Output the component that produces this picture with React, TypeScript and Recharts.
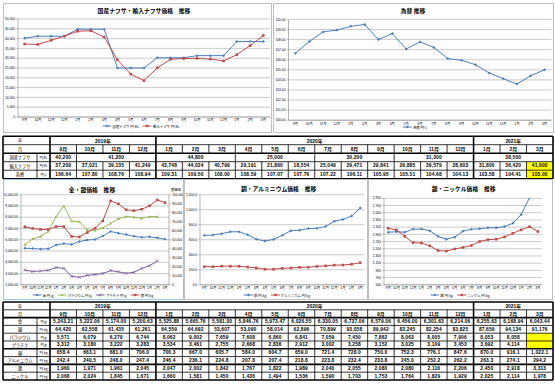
import React from 'react';
import { LineChart, Line, XAxis, YAxis, CartesianGrid } from 'recharts';

const months = ['9月', '10月', '11月', '12月', '1月', '2月', '3月', '4月', '5月', '6月', '7月', '8月', '9月', '10月', '11月', '12月', '1月', '2月', '3月'];
const yearLabels = ['2019年', '2020年', '2021年'];
const yearSpans = [4, 12, 3];

// ナフサ・為替
const naphthaDomestic = [40200, 41200, 41200, 41200, 44800, 44800, 44800, 25000, 25000, 25000, 30200, 30200, 30200, 31300, 31300, 31300, 38500, 38500, 38500];
const naphthaImport = [37209, 37021, 39135, 41249, 43748, 44024, 40799, 29191, 21860, 18554, 25049, 29471, 29841, 29885, 29579, 28603, 31800, 36420, 41600];
const fxRate = [106.64, 107.8, 108.76, 108.94, 109.31, 109.5, 108.0, 108.59, 107.07, 107.76, 107.22, 106.11, 105.95, 105.51, 104.68, 104.13, 103.58, 104.41, 105.0];

// 貴金属
const gold = [5243.21, 5222.06, 5174.0, 5200.63, 5525.88, 5665.76, 5581.0, 5846.76, 5973.47, 6026.55, 6330.05, 6737.06, 6579.06, 6456.0, 6301.63, 6214.06, 6255.63, 6168.94, 6043.44];
const silver = [64420, 62558, 61435, 61261, 64559, 64692, 53607, 53090, 58014, 62896, 70899, 93058, 89942, 83245, 82254, 83825, 87659, 94134, 91176];
const palladium = [5571, 6079, 6279, 6744, 8062, 9002, 7659, 7608, 6860, 6841, 7059, 7450, 7862, 8063, 8005, 7906, 8053, 8058, null];
const platinum = [3312, 3180, 3222, 3283, 3534, 3461, 2755, 2668, 2836, 2912, 3002, 3258, 3152, 3025, 3109, 3453, 3692, 4114, null];

// 非鉄
const copper = [658.4, 663.1, 681.0, 706.0, 706.3, 667.0, 605.7, 584.0, 604.7, 659.0, 721.4, 728.0, 750.0, 752.3, 776.1, 847.6, 870.0, 916.1, 1022.1];
const aluminum = [242.4, 240.5, 248.0, 247.4, 246.4, 236.1, 224.8, 207.8, 207.4, 218.8, 223.8, 232.4, 233.8, 245.0, 252.2, 262.2, 263.3, 274.1, 294.2];
const tin = [1960, 1971, 1961, 2045, 2047, 2002, 1842, 1767, 1822, 1989, 2040, 2055, 2080, 2080, 2116, 2206, 2450, 2918, 3313];
const nickel = [2068, 2024, 1845, 1671, 1660, 1581, 1450, 1436, 1494, 1536, 1590, 1703, 1753, 1764, 1829, 1929, 2025, 2114, 1978];

// 軸目盛
const naphthaTicks = [0, 5000, 10000, 15000, 20000, 25000, 30000, 35000, 40000, 45000, 50000];
const fxTicks = [100, 101, 102, 103, 104, 105, 106, 107, 108, 109, 110];
const preciousTicks = [2000, 3000, 4000, 5000, 6000, 7000, 8000, 9000, 10000];
const silverTicks = [0, 10000, 20000, 30000, 40000, 50000, 60000, 70000, 80000, 90000, 100000];
const baseTicks = [0, 200, 400, 600, 800, 1000, 1200];
const tinTicks = [500, 700, 900, 1100, 1300, 1500, 1700, 1900, 2100, 2300, 2500, 2700, 2900];

const FONT = '"Liberation Sans", "Noto Sans CJK JP", sans-serif';
const JP = '"Noto Sans CJK JP", sans-serif';
const BLUE = '#4A7EBB';
const RED = '#BE4B48';
const GREEN = '#98B954';
const PURPLE = '#7D60A0';

const fmt = (d: number) => (v: number) =>
  v.toLocaleString('en-US', { minimumFractionDigits: d, maximumFractionDigits: d });

type Shape = 'diamond' | 'square' | 'triangle' | 'cross';

function Marker({ cx, cy, shape, color, s = 1.5 }: any) {
  if (cx == null || cy == null || isNaN(cy)) return null;
  if (shape === 'diamond') return <path d={`M${cx},${cy - s}L${cx + s},${cy}L${cx},${cy + s}L${cx - s},${cy}Z`} fill={color} />;
  if (shape === 'square') return <rect x={cx - s * 0.85} y={cy - s * 0.85} width={s * 1.7} height={s * 1.7} fill={color} />;
  if (shape === 'triangle') return <path d={`M${cx},${cy - s}L${cx + s},${cy + s * 0.8}L${cx - s},${cy + s * 0.8}Z`} fill={color} />;
  return <path d={`M${cx - s},${cy - s}L${cx + s},${cy + s}M${cx - s},${cy + s}L${cx + s},${cy - s}`} stroke={color} strokeWidth={0.7} />;
}

interface SeriesSpec { key: string; name: string; color: string; shape: Shape; axis: string; values: (number | null)[] }
interface AxisSpec { id: string; orientation: 'left' | 'right'; domain: [number, number]; ticks: number[]; width: number; format: (v: number) => string }

function TrendChart({ width, height, margin, axes, series, xHeight, clip }: any) {
  const data = months.map((m, i) => {
    const row: any = { i };
    series.forEach((s: SeriesSpec) => (row[s.key] = s.values[i]));
    return row;
  });
  const yw = axes.reduce((a: number, b: AxisSpec) => a + b.width, 0);
  const plotW = width - margin.left - margin.right - yw;
  const pad = plotW / months.length / 2;
  return (
    <LineChart width={width} height={height} data={data} margin={margin}>
      <CartesianGrid vertical={false} stroke="#a6a6a6" strokeWidth={0.6} yAxisId={axes[0].id} />
      <XAxis
        dataKey="i"
        type="category"
        tickFormatter={(v: number) => months[v]}
        interval={0}
        padding={{ left: pad, right: pad }}
        height={xHeight}
        tickLine={false}
        tickSize={1}
        tickMargin={1}
        axisLine={{ stroke: '#868686', strokeWidth: 0.6 }}
        tick={{ fontSize: 3.3, fill: '#000' }}
      />
      {axes.map((a: AxisSpec) => (
        <YAxis
          key={a.id}
          yAxisId={a.id}
          orientation={a.orientation}
          type="number"
          domain={a.domain}
          ticks={a.ticks}
          interval={0}
          allowDataOverflow={clip}
          width={a.width}
          tickFormatter={a.format}
          tickSize={1.5}
          tickMargin={1.5}
          tickLine={{ stroke: '#868686', strokeWidth: 0.6 }}
          axisLine={{ stroke: '#868686', strokeWidth: 0.6 }}
          tick={{ fontSize: 3.3, fill: '#000' }}
        />
      ))}
      {series.map((s: SeriesSpec) => (
        <Line
          key={s.key}
          yAxisId={s.axis}
          dataKey={s.key}
          type="linear"
          stroke={s.color}
          strokeWidth={1}
          isAnimationActive={false}
          dot={(p: any) => <Marker key={p.index} cx={p.cx} cy={p.cy} shape={s.shape} color={s.color} />}
        />
      ))}
    </LineChart>
  );
}

function LegendRow({ items, x, y }: { items: SeriesSpec[]; x: number; y: number }) {
  return (
    <div style={{ position: 'absolute', left: x, top: y, transform: 'translateX(-50%)', display: 'flex', gap: 4, whiteSpace: 'nowrap', fontSize: 3.4, lineHeight: '5px', fontFamily: JP }}>
      {items.map((s) => (
        <span key={s.key} style={{ display: 'flex', alignItems: 'center' }}>
          <svg width={9} height={4} style={{ marginRight: 1 }}>
            <line x1={0} y1={2} x2={9} y2={2} stroke={s.color} strokeWidth={1} />
            <Marker cx={4.5} cy={2} shape={s.shape} color={s.color} s={1.4} />
          </svg>
          {s.name}
        </span>
      ))}
    </div>
  );
}

function Panel({ left, top, width, height, border, title, titleX, titleY, children }: any) {
  return (
    <div style={{ position: 'absolute', left, top, width, height }}>
      {children}
      <div style={{ position: 'absolute', left: titleX, top: titleY, transform: 'translate(-50%, -50%)', fontFamily: JP, fontWeight: 700, fontSize: 5.8, whiteSpace: 'nowrap' }}>{title}</div>
      <div style={{ position: 'absolute', inset: 0, border: `1px solid ${border}`, boxSizing: 'border-box', pointerEvents: 'none' }} />
    </div>
  );
}

// ---- tables (drawn as a grid of absolutely placed cells) ----
interface Cell { c0: number; c1: number; text: string; kind?: 'label' | 'unit' | 'head'; yellow?: boolean; noLeft?: boolean }

// column edges: label, unit, then one column per month
const colEdges = [3, 37, 50, ...months.map((_, k) => 50 + (503 * (k + 1)) / months.length)];
const groupStarts = yearSpans.reduce((acc: number[], s, i) => [...acc, i === 0 ? 0 : acc[i - 1] + yearSpans[i - 1]], []);
const thickCols = new Set([0, 2, ...groupStarts.map((g) => g + 2), colEdges.length - 1]);

const valueCells = (vals: (number | null)[], f: (v: number) => string, yellowLast = false): Cell[] =>
  vals.map((v, i) => ({ c0: i + 2, c1: i + 3, text: v == null ? '' : f(v), yellow: yellowLast && i === vals.length - 1 }));

const mergedCells = (vals: number[], f: (v: number) => string): Cell[] => {
  const out: Cell[] = [];
  vals.forEach((v, i) => {
    const last = out[out.length - 1];
    if (last && vals[i - 1] === v) last.c1 += 1;
    else out.push({ c0: i + 2, c1: i + 3, text: f(v) });
  });
  return out;
};

const headerRows = (): Cell[][] => [
  [
    { c0: 0, c1: 1, text: '年', kind: 'label' },
    { c0: 1, c1: 2, text: '', noLeft: true },
    ...yearLabels.map((y, i) => ({ c0: groupStarts[i] + 2, c1: groupStarts[i] + 2 + yearSpans[i], text: y, kind: 'head' as const })),
  ],
  [
    { c0: 0, c1: 1, text: '月', kind: 'label' },
    { c0: 1, c1: 2, text: '', noLeft: true },
    ...months.map((m, i) => ({ c0: i + 2, c1: i + 3, text: m, kind: 'head' as const })),
  ],
];

const dataRow = (label: string, unit: string, cells: Cell[]): Cell[] => [
  { c0: 0, c1: 1, text: label, kind: 'label' },
  { c0: 1, c1: 2, text: unit, kind: 'unit' },
  ...cells,
];

function GridTable({ top, rowH, rows, thickRows }: { top: number; rowH: number; rows: Cell[][]; thickRows: number[] }) {
  const n = rows.length;
  const x0 = colEdges[0];
  const x1 = colEdges[colEdges.length - 1];
  return (
    <>
      {rows.map((row, r) =>
        row.map((c) => (
          <div
            key={`${r}-${c.c0}`}
            style={{
              position: 'absolute',
              left: colEdges[c.c0],
              top: top + r * rowH,
              width: colEdges[c.c1] - colEdges[c.c0],
              height: rowH,
              background: c.yellow ? '#FFFF00' : undefined,
              display: 'flex',
              alignItems: 'center',
              justifyContent: 'center',
              whiteSpace: 'nowrap',
              overflow: 'hidden',
              fontFamily: c.kind === 'label' || c.kind === 'unit' ? JP : FONT,
              fontWeight: c.kind === 'label' || c.kind === 'unit' ? 400 : 700,
              fontSize: c.kind === 'unit' ? 3.2 : c.kind === 'label' ? Math.min(4.2, 30 / Math.max(1, c.text.length)) : 4.9,
              letterSpacing: c.kind ? 0 : 0.15,
            }}
          >
            {c.text}
          </div>
        ))
      )}
      <svg width={555} height={384} style={{ position: 'absolute', left: 0, top: 0, pointerEvents: 'none' }}>
        {Array.from({ length: n + 1 }, (_, k) => (
          <line key={`h${k}`} x1={x0} x2={x1} y1={top + k * rowH} y2={top + k * rowH} stroke="#000"
            strokeWidth={k === 0 || k === n || thickRows.includes(k) ? 1.6 : 0.8} />
        ))}
        {rows.map((row, r) =>
          [...row.filter((c) => !c.noLeft).map((c) => c.c0), colEdges.length - 1].map((ci) => (
            <line key={`v${r}-${ci}`} x1={colEdges[ci]} x2={colEdges[ci]} y1={top + r * rowH} y2={top + (r + 1) * rowH}
              stroke="#000" strokeWidth={thickCols.has(ci) ? 1.6 : 0.8} />
          ))
        )}
      </svg>
    </>
  );
}

const naphthaSeries: SeriesSpec[] = [
  { key: 'dom', name: '国産ナフサ 円/KL', color: BLUE, shape: 'diamond', axis: 'l', values: naphthaDomestic },
  { key: 'imp', name: '輸入ナフサ 円/KL', color: RED, shape: 'square', axis: 'l', values: naphthaImport },
];
const fxSeries: SeriesSpec[] = [{ key: 'fx', name: '為替 円/$', color: BLUE, shape: 'diamond', axis: 'l', values: fxRate }];
const preciousSeries: SeriesSpec[] = [
  { key: 'au', name: '金 円/g', color: BLUE, shape: 'diamond', axis: 'l', values: gold },
  { key: 'pd', name: 'パラジウム 円/g', color: GREEN, shape: 'triangle', axis: 'l', values: palladium },
  { key: 'pt', name: 'プラチナ 円/g', color: PURPLE, shape: 'cross', axis: 'l', values: platinum },
  { key: 'ag', name: '銀 円/kg', color: RED, shape: 'square', axis: 'r', values: silver },
];
const baseSeries: SeriesSpec[] = [
  { key: 'cu', name: '銅 円/kg', color: BLUE, shape: 'diamond', axis: 'l', values: copper },
  { key: 'al', name: 'アルミニウム 円/kg', color: RED, shape: 'square', axis: 'l', values: aluminum },
];
const tinSeries: SeriesSpec[] = [
  { key: 'sn', name: '錫 円/kg', color: BLUE, shape: 'diamond', axis: 'l', values: tin },
  { key: 'ni', name: 'ニッケル 円/kg', color: RED, shape: 'square', axis: 'l', values: nickel },
];

export default function App() {
  const table1: Cell[][] = [
    ...headerRows(),
    dataRow('国産ナフサ', '円/KL', mergedCells(naphthaDomestic, fmt(0))),
    dataRow('輸入ナフサ', '円/KL', valueCells(naphthaImport, fmt(0), true)),
    dataRow('為替', '円/$', valueCells(fxRate, fmt(2), true)),
  ];
  const table2: Cell[][] = [
    ...headerRows(),
    dataRow('金', '円/g', valueCells(gold, fmt(2))),
    dataRow('銀', '円/kg', valueCells(silver, fmt(0))),
    dataRow('パラジウム', '円/g', valueCells(palladium, fmt(0), true)),
    dataRow('プラチナ', '円/g', valueCells(platinum, fmt(0), true)),
    dataRow('銅', '円/kg', valueCells(copper, fmt(1))),
    dataRow('アルミニウム', '円/kg', valueCells(aluminum, fmt(1))),
    dataRow('錫', '円/kg', valueCells(tin, fmt(0))),
    dataRow('ニッケル', '円/kg', valueCells(nickel, fmt(0))),
  ];

  return (
    <div style={{ position: 'absolute', left: 0, top: 0, width: 555, height: 384, background: '#fff', overflow: 'hidden', fontFamily: FONT }}>
      <Panel left={3} top={3} width={269} height={130} border="#bfbfbf" title="国産ナフサ・輸入ナフサ価格　推移" titleX={141} titleY={6.5}>
        <TrendChart
          width={269} height={130} margin={{ top: 16, right: 2, bottom: 8, left: 0 }} xHeight={8}
          axes={[{ id: 'l', orientation: 'left', domain: [0, 50000], ticks: naphthaTicks, width: 15, format: fmt(0) }]}
          series={naphthaSeries}
        />
        <LegendRow items={naphthaSeries} x={138} y={120.5} />
      </Panel>

      <Panel left={273} top={3} width={281} height={130} border="#bfbfbf" title="為替 推移" titleX={140} titleY={6.5}>
        <TrendChart
          width={281} height={130} margin={{ top: 16.4, right: 2.5, bottom: 5.8, left: 0 }} xHeight={7}
          axes={[{ id: 'l', orientation: 'left', domain: [100, 110], ticks: fxTicks, width: 15.5, format: fmt(2) }]}
          series={fxSeries}
        />
        <LegendRow items={fxSeries} x={142} y={121.5} />
      </Panel>

      <GridTable top={136.2} rowH={8.5} rows={table1} thickRows={[2]} />

      <Panel left={3} top={179} width={181} height={121} border="#9DC3E6" title="金・銀価格　推移" titleX={89} titleY={9.6}>
        <TrendChart
          width={181} height={121} margin={{ top: 15.7, right: 2, bottom: 9.2, left: 0 }} xHeight={6}
          axes={[
            { id: 'l', orientation: 'left', domain: [2000, 10000], ticks: preciousTicks, width: 18, format: fmt(2) },
            { id: 'r', orientation: 'right', domain: [0, 100000], ticks: silverTicks, width: 13, format: fmt(0) },
          ]}
          series={preciousSeries}
        />
        <div style={{ position: 'absolute', left: 173, top: 10, transform: 'translate(-50%, -50%)', fontSize: 3.3, fontFamily: JP, whiteSpace: 'nowrap' }}>銀価格</div>
        <LegendRow items={preciousSeries} x={90} y={113.5} />
      </Panel>

      <Panel left={184} top={179} width={184} height={121} border="#bfbfbf" title="銅・アルミニウム価格　推移" titleX={94.6} titleY={9}>
        <TrendChart
          width={184} height={121} margin={{ top: 15.7, right: 3.4, bottom: 9.2, left: 0 }} xHeight={6}
          axes={[{ id: 'l', orientation: 'left', domain: [0, 1200], ticks: baseTicks, width: 16, format: fmt(1) }]}
          series={baseSeries}
        />
        <LegendRow items={baseSeries} x={93} y={113.5} />
      </Panel>

      <Panel left={368} top={179} width={185} height={121} border="#bfbfbf" title="錫・ニッケル価格　推移" titleX={95.7} titleY={9}>
        <TrendChart
          width={185} height={121} margin={{ top: 19.3, right: 11, bottom: 9.2, left: 0 }} xHeight={6} clip
          axes={[{ id: 'l', orientation: 'left', domain: [500, 2900], ticks: tinTicks, width: 16, format: fmt(0) }]}
          series={tinSeries}
        />
        <LegendRow items={tinSeries} x={92} y={113.5} />
      </Panel>

      <GridTable top={302} rowH={7.8} rows={table2} thickRows={[2, 6, 8]} />
    </div>
  );
}
